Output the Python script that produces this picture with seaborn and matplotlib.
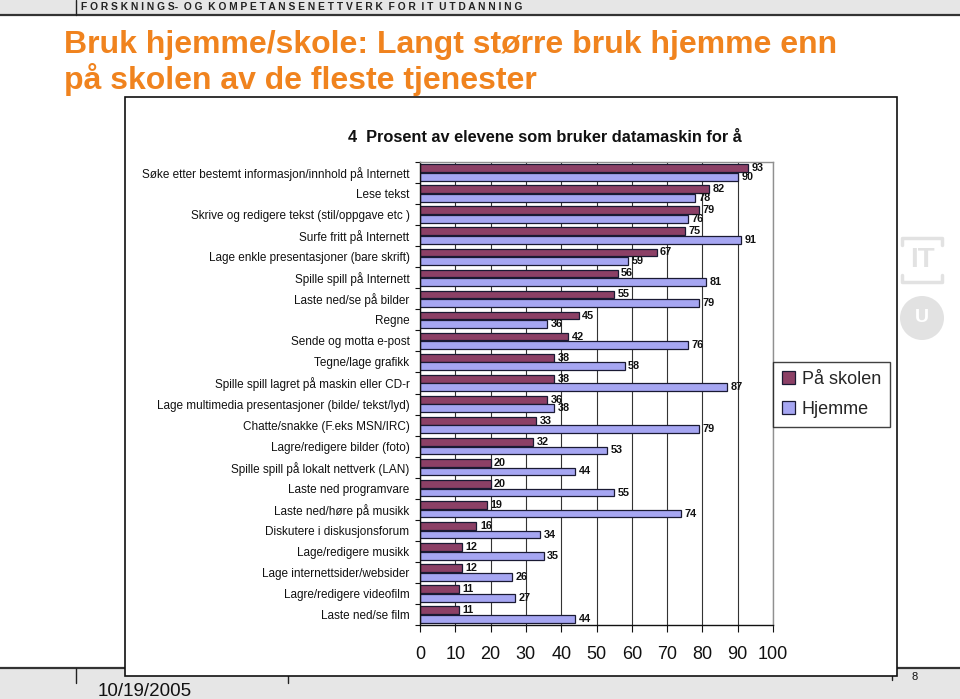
import numpy as np
import pandas as pd
import matplotlib
matplotlib.use("Agg")
import matplotlib.pyplot as plt
from matplotlib.patches import Rectangle, Circle
from matplotlib.lines import Line2D
from matplotlib.transforms import IdentityTransform
import seaborn as sns

categories = [
    "Søke etter bestemt informasjon/innhold på Internett",
    "Lese tekst",
    "Skrive og redigere tekst (stil/oppgave etc )",
    "Surfe fritt på Internett",
    "Lage enkle presentasjoner (bare skrift)",
    "Spille spill på Internett",
    "Laste ned/se på bilder",
    "Regne",
    "Sende og motta e-post",
    "Tegne/lage grafikk",
    "Spille spill lagret på maskin eller CD-r",
    "Lage multimedia presentasjoner (bilde/ tekst/lyd)",
    "Chatte/snakke (F.eks MSN/IRC)",
    "Lagre/redigere bilder (foto)",
    "Spille spill på lokalt nettverk (LAN)",
    "Laste ned programvare",
    "Laste ned/høre på musikk",
    "Diskutere i diskusjonsforum",
    "Lage/redigere musikk",
    "Lage internettsider/websider",
    "Lagre/redigere videofilm",
    "Laste ned/se film",
]
skole = [93, 82, 79, 75, 67, 56, 55, 45, 42, 38, 38, 36, 33, 32, 20, 20, 19, 16, 12, 12, 11, 11]
hjemme = [90, 78, 76, 91, 59, 81, 79, 36, 76, 58, 87, 38, 79, 53, 44, 55, 74, 34, 35, 26, 27, 44]
series_names = ["På skolen", "Hjemme"]
x_ticks = [0, 10, 20, 30, 40, 50, 60, 70, 80, 90, 100]

chart_title = "4  Prosent av elevene som bruker datamaskin for å"
slide_title_1 = "Bruk hjemme/skole: Langt større bruk hjemme enn"
slide_title_2 = "på skolen av de fleste tjenester"
header_text = "F O R S K N I N G S-  O G  K O M P E T A N S E N E T T V E R K  F O R  I T  U T D A N N I N G"
date_text = "10/19/2005"
page_text = "8"

df = pd.DataFrame({
    "Kategori": categories * 2,
    "Serie": [series_names[0]] * len(categories) + [series_names[1]] * len(categories),
    "Prosent": skole + hjemme,
})

sns.set_theme(style="white")
NARROW = ["Liberation Sans Narrow", "Liberation Sans", "DejaVu Sans"]
REG = ["Liberation Sans", "DejaVu Sans"]
plt.rcParams["font.family"] = REG

W, H = 960, 699
fig = plt.figure(figsize=(9.6, 6.99), dpi=100)
fig.patch.set_facecolor("white")

def fx(x):
    return x / W

def fy(y):
    return 1 - y / H

# header band
fig.patches.append(Rectangle((0, fy(15)), 1, 15 / H, transform=fig.transFigure,
                             facecolor="#e6e6e6", edgecolor="none", zorder=-5))
fig.lines.append(Line2D([0, 1], [fy(15), fy(15)], transform=fig.transFigure,
                        color="#333333", lw=1.6, zorder=-4))
fig.lines.append(Line2D([fx(76), fx(76)], [fy(0), fy(15)], transform=fig.transFigure,
                        color="#222222", lw=1.0, zorder=-4))
fig.text(fx(81), fy(7), header_text, fontsize=7.4, fontweight="bold", color="#222222",
         ha="left", va="center", family=REG)

# footer band
fig.patches.append(Rectangle((0, 0), 1, (H - 668) / H, transform=fig.transFigure,
                             facecolor="#e6e6e6", edgecolor="none", zorder=-5))
fig.lines.append(Line2D([0, 1], [fy(668), fy(668)], transform=fig.transFigure,
                        color="#333333", lw=1.6, zorder=-4))
for xx, y2 in [(76, 683), (288, 683), (892, 680)]:
    fig.lines.append(Line2D([fx(xx), fx(xx)], [fy(668), fy(y2)], transform=fig.transFigure,
                            color="#222222", lw=1.0, zorder=-4))
fig.text(fx(98), fy(691), date_text, fontsize=13.5, color="#111111", ha="left", va="center",
         family=NARROW)
fig.text(fx(915), fy(677), page_text, fontsize=8, color="#111111", ha="center", va="center")

# slide title
fig.text(fx(64), fy(45), slide_title_1, fontsize=23, fontweight="bold", color="#f0831e",
         ha="left", va="center", family=REG)
fig.text(fx(64), fy(80), slide_title_2, fontsize=23, fontweight="bold", color="#f0831e",
         ha="left", va="center", family=REG)

# logo (faint)
fig.text(fx(922), fy(260), "IT", fontsize=20, fontweight="bold", color="#e2e2e2",
         ha="center", va="center")
fig.lines.append(Line2D([fx(902), fx(902), fx(942), fx(942)], [fy(245), fy(238), fy(238), fy(245)],
                        transform=fig.transFigure, color="#e2e2e2", lw=2.5))
fig.lines.append(Line2D([fx(902), fx(902), fx(942), fx(942)], [fy(275), fy(282), fy(282), fy(275)],
                        transform=fig.transFigure, color="#e2e2e2", lw=2.5))
fig.patches.append(Circle((922, H - 318), 22, transform=IdentityTransform(),
                          facecolor="#e2e2e2", edgecolor="none"))
fig.text(fx(922), fy(318), "U", fontsize=14, fontweight="bold", color="white",
         ha="center", va="center")

# chart box
fig.patches.append(Rectangle((fx(125), fy(676)), (897 - 125) / W, (676 - 97) / H,
                             transform=fig.transFigure, facecolor="white",
                             edgecolor="#111111", lw=1.2, zorder=-1))

fig.text(fx(545), fy(137), chart_title, fontsize=11.8, fontweight="bold", color="#111111",
         ha="center", va="center", family=NARROW)

ax = fig.add_axes([fx(420), fy(625), (773 - 420) / W, (625 - 162) / H])
ax.set_facecolor("white")
sns.barplot(data=df, y="Kategori", x="Prosent", hue="Serie", orient="h",
            order=categories, hue_order=series_names,
            palette=["#993366", "#9999ff"], width=0.82, gap=0.1,
            edgecolor="#1a1a33", linewidth=0.9, ax=ax, legend=True, errorbar=None)

for cont in ax.containers:
    ax.bar_label(cont, padding=2.5, fontsize=7.8, fontweight="bold", color="#111111", family=REG)

ax.set_xlim(0, 100)
ax.set_ylim(len(categories) - 0.5, -0.5)
ax.set_xticks(x_ticks)
ax.set_xticklabels([str(t) for t in x_ticks], fontsize=13, family=NARROW, color="#111111")
ax.set_yticks(range(len(categories)))
ax.set_yticklabels(categories, fontsize=8.5, family=NARROW, color="#111111")
ax.set_yticks(np.arange(-0.5, len(categories), 1.0), minor=True)
ax.tick_params(axis="y", which="major", length=0, pad=7.5)
ax.tick_params(axis="y", which="minor", length=3.5, width=0.8, color="#111111", direction="out", left=True)
ax.tick_params(axis="x", which="major", length=5, width=0.8, color="#111111", direction="out",
               pad=10, bottom=True)
ax.set_xlabel("")
ax.set_ylabel("")
ax.grid(axis="x", color="#333333", lw=0.8)
ax.grid(axis="y", visible=False)
ax.set_axisbelow(True)
for s in ["left", "bottom"]:
    ax.spines[s].set_color("#111111")
    ax.spines[s].set_linewidth(1.0)
for s in ["top", "right"]:
    ax.spines[s].set_color("#909090")
    ax.spines[s].set_linewidth(1.0)

handles, labels = ax.get_legend_handles_labels()
ax.get_legend().remove()
leg = fig.legend(handles, labels, loc="upper left", bbox_to_anchor=(fx(773), fy(362)),
                 frameon=True, fancybox=False, edgecolor="#111111", fontsize=13,
                 handlelength=0.7, handleheight=0.7, handletextpad=0.4, borderpad=0.5,
                 labelspacing=0.7, borderaxespad=0)
leg.get_frame().set_linewidth(1.0)
for t in leg.get_texts():
    t.set_family(REG)

fig.savefig("out.png", dpi=100)
